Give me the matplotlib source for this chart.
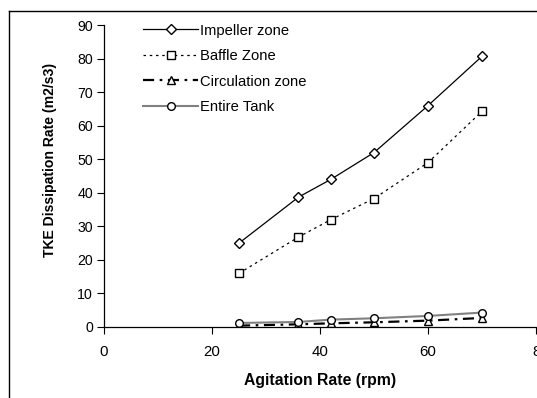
import matplotlib
matplotlib.use("Agg")
import matplotlib.pyplot as plt
from matplotlib.lines import Line2D

plt.rcParams["font.family"] = ["Liberation Sans", "DejaVu Sans"]

# Agitation rate (rpm)
rpm = [25, 36, 42, 50, 60, 70]

# TKE dissipation rate (m2/s3) per zone
impeller = [25.0, 38.7, 44.0, 52.0, 66.0, 80.7]
baffle = [16.0, 26.8, 32.0, 38.3, 49.0, 64.3]
circulation = [0.4, 0.8, 1.1, 1.4, 1.9, 2.7]
entire_tank = [1.2, 1.5, 2.2, 2.6, 3.3, 4.3]

x_ticks = [0, 20, 40, 60, 80]
x_tick_labels = ["0", "20", "40", "60", "8"]
y_ticks = [0, 10, 20, 30, 40, 50, 60, 70, 80, 90]

fig = plt.figure(figsize=(5.37, 3.98), dpi=100)
ax = fig.add_axes([0.1937, 0.1784, 0.8045, 0.7586])

mk = dict(markerfacecolor="white", markeredgewidth=1.0, markersize=5.5)
ax.plot(rpm, impeller, color="black", linewidth=0.9, marker="D",
        markeredgecolor="black", label="Impeller zone", **dict(mk, markersize=4.8))
ax.plot(rpm, baffle, color="black", linewidth=0.9, linestyle=(0, (2, 3)),
        marker="s", markeredgecolor="black", label="Baffle Zone", **mk)
ax.plot(rpm, circulation, color="black", linewidth=1.6,
        linestyle=(0, (5, 2.5, 1.2, 2.5)), marker="^",
        markeredgecolor="black", label="Circulation zone", **mk)
ax.plot(rpm, entire_tank, color="#808080", linewidth=1.5, marker="o",
        markeredgecolor="black", label="Entire Tank", **mk)

ax.set_xlim(0, 80)
ax.set_ylim(0, 90)
ax.set_xticks(x_ticks)
ax.set_xticklabels(x_tick_labels)
ax.set_yticks(y_ticks)
for s in ["top", "right"]:
    ax.spines[s].set_visible(False)
for s in ["left", "bottom"]:
    ax.spines[s].set_linewidth(0.9)
ax.tick_params(direction="out", length=5, width=0.8, pad=3)
ax.tick_params(axis="y", labelsize=10.2)
ax.tick_params(axis="x", labelsize=10.8, pad=8)

ax.set_xlabel("Agitation Rate (rpm)", fontsize=11.3, fontweight="bold", labelpad=10)
ax.set_ylabel("TKE Dissipation Rate (m2/s3)", fontsize=10.1, fontweight="bold")
ax.yaxis.set_label_coords(-0.108, 0.553)

ax.legend(loc="upper left", bbox_to_anchor=(0.09, 1.005), frameon=False,
          fontsize=10.6, handlelength=3.75, labelspacing=0.78, handletextpad=0.15,
          borderaxespad=0, borderpad=0)

# outer chart frame (clipped at right and bottom in the original)
fig.add_artist(Line2D([9 / 537, 9 / 537], [0, 1 - 11 / 398], color="black", linewidth=1.0))
fig.add_artist(Line2D([9 / 537, 1], [1 - 11 / 398, 1 - 11 / 398], color="black", linewidth=1.0))

fig.savefig("out.png", dpi=100)
